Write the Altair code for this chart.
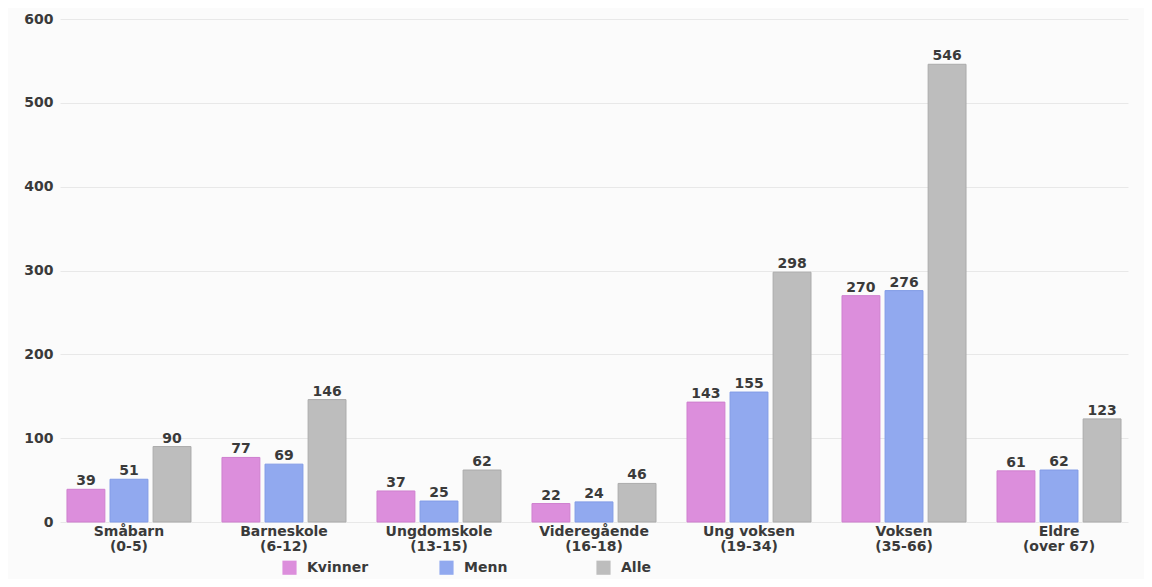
import altair as alt
import pandas as pd

categories = ["Småbarn\n(0-5)", "Barneskole\n(6-12)", "Ungdomskole\n(13-15)",
              "Videregående\n(16-18)", "Ung voksen\n(19-34)", "Voksen\n(35-66)",
              "Eldre\n(over 67)"]
series = ["Kvinner", "Menn", "Alle"]
kvinner = [39, 77, 37, 22, 143, 270, 61]
menn = [51, 69, 25, 24, 155, 276, 62]
alle = [90, 146, 62, 46, 298, 546, 123]
colors = ["#dc8edc", "#91a9ef", "#bdbdbd"]
strokes = ["#cf7fcf", "#819be6", "#ababab"]

rows = []
for i, c in enumerate(categories):
    for s, vals in zip(series, [kvinner, menn, alle]):
        rows.append({"cat": c, "series": s, "value": vals[i]})
df = pd.DataFrame(rows)

font = "DejaVu Sans"
tcol = "#3a3a3a"

x = alt.X("cat:N", sort=categories, title=None,
          scale=alt.Scale(paddingInner=0.2, paddingOuter=0.045),
          axis=alt.Axis(labelAngle=0, labelExpr="split(datum.label, '\\n')",
                        labelFontSize=14, labelColor=tcol, labelFont=font,
                        labelFontWeight="bold",
                        ticks=False, domain=False, labelPadding=2, labelLineHeight=15))
xo = alt.XOffset("series:N", sort=series,
                 scale=alt.Scale(paddingInner=0.12, paddingOuter=0))
y = alt.Y("value:Q", title=None,
          scale=alt.Scale(domain=[0, 600], nice=False),
          axis=alt.Axis(values=[0, 100, 200, 300, 400, 500, 600], grid=True,
                        gridColor="#e8e8e8", ticks=False, domain=False,
                        labelFontSize=14, labelColor=tcol, labelFont=font,
                        labelFontWeight="bold", labelPadding=7))
color = alt.Color("series:N", sort=series,
                  scale=alt.Scale(domain=series, range=colors),
                  legend=alt.Legend(title=None, orient="none", direction="horizontal",
                                    legendX=222, legendY=541, symbolType="square",
                                    symbolSize=200, symbolStrokeWidth=0,
                                    labelFontSize=14, labelFont=font, labelColor=tcol,
                                    labelFontWeight="bold",
                                    gridAlign="all", columnPadding=70, labelOffset=10))
stroke = alt.Stroke("series:N", sort=series,
                    scale=alt.Scale(domain=series, range=strokes), legend=None)

bars = alt.Chart(df).mark_bar(strokeWidth=1).encode(
    x=x, xOffset=xo, y=y, color=color, stroke=stroke)
labels = alt.Chart(df).mark_text(baseline="alphabetic", dy=-4, fontSize=14, font=font,
                                 fontWeight="bold", color=tcol).encode(
    x=x, xOffset=xo, y=y, text="value:Q")

chart = alt.layer(bars, labels).properties(
    width=1068, height=503,
    autosize=alt.AutoSizeParams(type="none"),
    padding={"left": 52, "top": 11, "right": 16, "bottom": 57},
    background="#fbfbfb",
).configure_view(stroke=None)

chart.save("out.html", embed_options={"renderer": "svg", "actions": False})
